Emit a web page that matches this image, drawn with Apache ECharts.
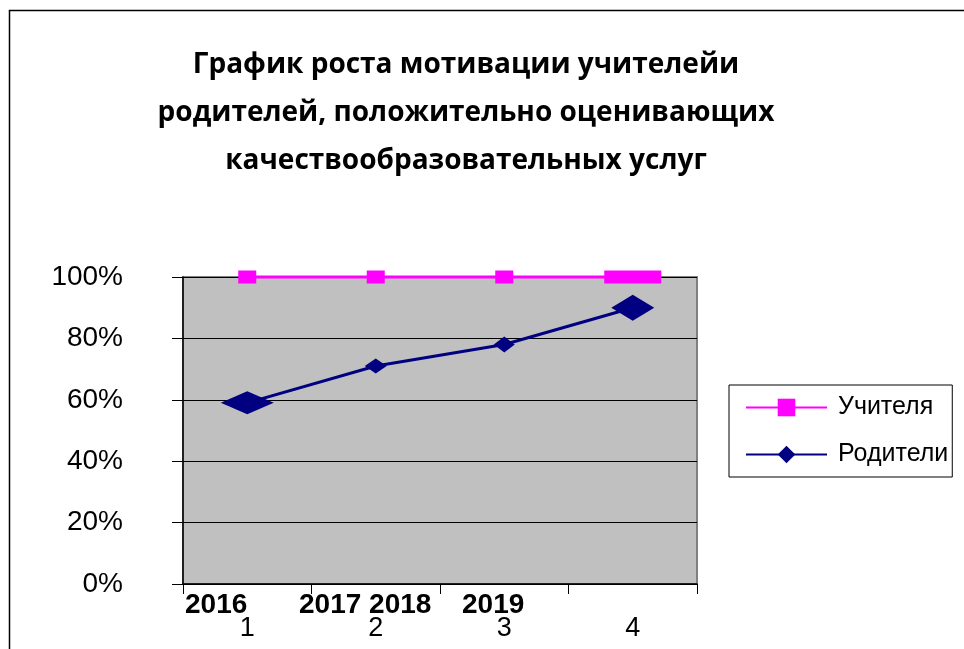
<!DOCTYPE html>
<html><head><meta charset="utf-8">
<script src="https://cdn.jsdelivr.net/npm/echarts@6/dist/echarts.min.js"></script>
<style>html,body{margin:0;padding:0;background:#fff}#c{width:964px;height:649px}</style>
</head><body><div id="c"></div>
<script>
const titleLines = ['График роста мотивации учителейи', 'родителей, положительно оценивающих', 'качествообразовательных услуг'];
const categories = ['1', '2', '3', '4'];
const yearLabels = ['2016', '2017 2018', '2019'];
const teachers = [1.00, 1.00, 1.00, 1.00];
const parents = [0.59, 0.71, 0.78, 0.90];
const yTicks = [0, 0.2, 0.4, 0.6, 0.8, 1.0];

// marker sizes (style)
const teacherSizes = [[18, 13], [18, 13], [18, 13], [57, 13]];
const parentSizes = [[53, 23], [22, 15], [21, 16], [43, 26]];
const yearX = [185, 299, 462];

const chart = echarts.init(document.getElementById('c'), null, {renderer: 'canvas'});
chart.setOption({
  animation: false,
  backgroundColor: '#ffffff',
  grid: {left: 183, right: 267, top: 277, bottom: 65, show: true, backgroundColor: '#C0C0C0', borderColor: '#808080', borderWidth: 2},
  xAxis: {
    type: 'category', data: categories, boundaryGap: true,
    axisLine: {show: true, lineStyle: {color: '#000', width: 1.5}},
    axisTick: {show: true, length: 10, lineStyle: {color: '#000'}},
    axisLabel: {fontFamily: 'Liberation Sans', fontSize: 27, color: '#000', margin: 31},
    splitLine: {show: false}
  },
  yAxis: {
    type: 'value', min: yTicks[0], max: yTicks[yTicks.length - 1], interval: 0.2,
    axisLine: {show: true, lineStyle: {color: '#000', width: 1.5}},
    axisTick: {show: true, length: 11, lineStyle: {color: '#000'}},
    axisLabel: {fontFamily: 'Liberation Sans', fontSize: 28, color: '#000', margin: 60,
      formatter: v => Math.round(v * 100) + '%'},
    splitLine: {show: true, lineStyle: {color: '#000', width: 1}}
  },
  legend: {
    orient: 'vertical', left: 729, top: 385,
    borderColor: '#000', borderWidth: 1, padding: [10, 4, 10, 16],
    itemWidth: 81, itemHeight: 22, itemGap: 22,
    textStyle: {fontFamily: 'Liberation Sans', fontSize: 25, color: '#000', padding: [0, 0, 0, 6]},
    data: ['Учителя', 'Родители']
  },
  series: [
    {
      name: 'Учителя', type: 'line', clip: false, z: 3,
      data: teachers.map((v, i) => ({value: v, symbolSize: teacherSizes[i]})),
      symbol: 'rect', symbolSize: 14,
      lineStyle: {color: '#FF00FF', width: 3},
      itemStyle: {color: '#FF00FF'}
    },
    {
      name: 'Родители', type: 'line', clip: false, z: 2,
      data: parents.map((v, i) => ({value: v, symbolSize: parentSizes[i]})),
      symbol: 'diamond', symbolSize: 14,
      lineStyle: {color: '#000080', width: 3},
      itemStyle: {color: '#000080'}
    }
  ],
  graphic: [
    {type: 'rect', silent: true, z: -1, shape: {x: 9.5, y: 10.5, width: 1000, height: 700},
      style: {fill: null, stroke: '#000', lineWidth: 1.5}},
    {type: 'text', z: 10, style: {x: 466, y: 41, text: titleLines.join('\n'), textAlign: 'center', textVerticalAlign: 'top',
      font: 'bold 28px "Open Sans"', lineHeight: 48, fill: '#000'}}
  ].concat(yearLabels.map((t, i) => ({
    type: 'text', z: 10, style: {x: yearX[i], y: 605, text: t, textAlign: 'left', textVerticalAlign: 'middle',
      font: 'bold 28px "Liberation Sans"', fill: '#000'}
  })))
});
</script></body></html>
